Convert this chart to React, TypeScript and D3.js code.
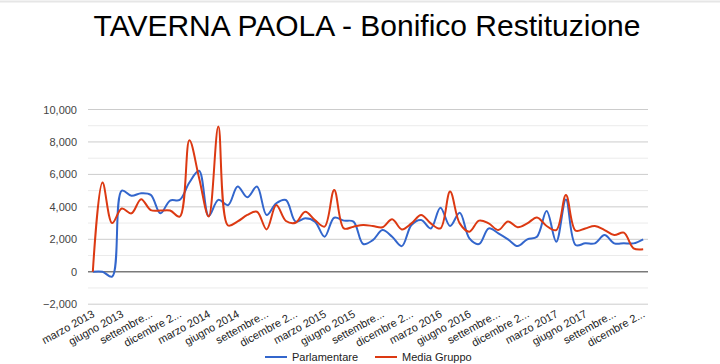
import { useEffect, useRef } from 'react'
import * as d3 from 'd3'

// mesi da marzo 2013 a dicembre 2017
const monthNames = ['gennaio', 'febbraio', 'marzo', 'aprile', 'maggio', 'giugno', 'luglio', 'agosto', 'settembre', 'ottobre', 'novembre', 'dicembre']
const categories: string[] = []
for (let k = 2; k < 2 + 58; k++) {
  categories.push(`${monthNames[k % 12]} ${2013 + Math.floor(k / 12)}`)
}

const parlamentare = [
  0, 0, -300, 5000, 4680, 4840, 4740, 3600, 4390, 4430,
  5500, 6220, 3440, 4430, 4100, 5250, 4590, 5250, 3500, 4220,
  4420, 3090, 3290, 3090, 2160, 3330, 3150, 3090, 1710, 1950,
  2570, 2160, 1580, 2880, 3190, 2670, 3950, 2820, 3640, 2060,
  1710, 2670, 2370, 2000, 1580, 2000, 2160, 3740, 1850, 4460,
  1650, 1750, 1750, 2260, 1750, 1750, 1750, 2000
]

const mediaGruppo = [
  0, 5500, 3000, 3900, 3600, 4470, 3800, 3770, 3770, 3400,
  8100, 5800, 3400, 8950, 2850, 3100, 3500, 3700, 2610, 4110,
  3130, 3020, 3700, 3190, 2780, 5040, 2670, 2780, 2880, 2820,
  2740, 3230, 2610, 2980, 3500, 2980, 2670, 4940, 2980, 2470,
  3150, 2980, 2570, 3100, 2740, 2980, 3350, 2820, 2570, 4730,
  2530, 2670, 2820, 2570, 2260, 2410, 1440, 1380
]

const tickLabels = [
  'marzo 2013', 'giugno 2013', 'settembre...', 'dicembre 2...',
  'marzo 2014', 'giugno 2014', 'settembre...', 'dicembre 2...',
  'marzo 2015', 'giugno 2015', 'settembre...', 'dicembre 2...',
  'marzo 2016', 'giugno 2016', 'settembre...', 'dicembre 2...',
  'marzo 2017', 'giugno 2017', 'settembre...', 'dicembre 2...'
]

const yTicks = [-2000, 0, 2000, 4000, 6000, 8000, 10000]
const yMinorTicks = [-1000, 1000, 3000, 5000, 7000, 9000]
const seriesNames = ['Parlamentare', 'Media Gruppo']
const seriesColors = ['#3366cc', '#dc3912']

export default function App() {
  const canvas = useRef<HTMLDivElement>(null)

  useEffect(() => {
    showCanvas()
  }, [])

  const showCanvas = () => {
    const width = 720
    const height = 364
    const margin = { top: 109.5, bottom: 304.2, left: 88, right: 648 }
    const font = 'Arial, "Liberation Sans", sans-serif'

    d3.select(canvas.current).selectAll('*').remove()

    const svg = d3.select(canvas.current)
      .append('svg')
      .attr('width', width)
      .attr('height', height)
      .style('position', 'absolute')
      .style('left', '0px')
      .style('top', '0px')
      .style('background-color', 'white')
      .style('font-family', font)

    // riga grigia in alto
    svg.append('line')
      .attr('x1', 0).attr('x2', width)
      .attr('y1', 1.5).attr('y2', 1.5)
      .attr('stroke', '#e6e6e6')
      .attr('stroke-width', 2)

    svg.append('text')
      .attr('x', 367)
      .attr('y', 36)
      .attr('text-anchor', 'middle')
      .style('font-size', '30px')
      .attr('fill', '#000')
      .text('TAVERNA PAOLA - Bonifico Restituzione')

    const xScale = d3.scalePoint<string>()
      .domain(categories)
      .range([margin.left, margin.right])
      .padding(0.5)

    const yScale = d3.scaleLinear()
      .domain([-2000, 10000])
      .range([margin.bottom, margin.top])

    // griglia
    svg.append('g')
      .selectAll('line')
      .data(yMinorTicks)
      .join('line')
      .attr('x1', margin.left).attr('x2', margin.right)
      .attr('y1', d => yScale(d)).attr('y2', d => yScale(d))
      .attr('stroke', '#ebebeb')

    svg.append('g')
      .selectAll('line')
      .data(yTicks)
      .join('line')
      .attr('x1', margin.left).attr('x2', margin.right)
      .attr('y1', d => yScale(d)).attr('y2', d => yScale(d))
      .attr('stroke', d => d === 0 ? '#7a7a7a' : '#cccccc')
      .attr('stroke-width', d => d === 0 ? 1.3 : 1)

    // Y axis
    const yAxis = d3.axisLeft(yScale)
      .tickValues(yTicks)
      .tickFormat(d3.format(','))
      .tickSize(0)
      .tickPadding(11)

    const gy = svg.append('g')
      .attr('transform', `translate(${margin.left}, 0)`)
      .call(yAxis)
    gy.select('.domain').remove()
    gy.selectAll('text')
      .style('font-size', '11px')
      .style('font-family', font)
      .attr('fill', '#444')

    // X axis
    const shown = categories.filter((_, i) => i % 3 === 0)
    const xAxis = d3.axisBottom(xScale)
      .tickValues(shown)
      .tickFormat((d) => tickLabels[shown.indexOf(d)])
      .tickSize(0)

    const gx = svg.append('g')
      .attr('transform', `translate(0, ${margin.bottom})`)
      .call(xAxis)
    gx.select('.domain').remove()
    gx.selectAll('text')
      .attr('text-anchor', 'end')
      .attr('x', 0)
      .attr('y', 0)
      .attr('dy', 0)
      .attr('transform', 'translate(2, 12) rotate(-29)')
      .style('font-size', '11px')
      .style('font-family', font)
      .attr('fill', '#222')

    // linee
    const line = d3.line<number>()
      .x((_, i) => xScale(categories[i]) as number)
      .y(d => yScale(d))
      .curve(d3.curveCatmullRom.alpha(0.5))

    const series = [parlamentare, mediaGruppo]
    series.forEach((values, k) => {
      svg.append('path')
        .datum(values)
        .attr('d', line)
        .attr('fill', 'none')
        .attr('stroke', seriesColors[k])
        .attr('stroke-width', 2)
    })

    // legenda
    const legendX = [265, 375]
    const legend = svg.append('g')
    seriesNames.forEach((name, k) => {
      legend.append('line')
        .attr('x1', legendX[k]).attr('x2', legendX[k] + 22)
        .attr('y1', 357).attr('y2', 357)
        .attr('stroke', seriesColors[k])
        .attr('stroke-width', 2)
      legend.append('text')
        .attr('x', legendX[k] + 27)
        .attr('y', 361)
        .style('font-size', '11px')
        .attr('fill', '#222')
        .text(name)
    })
  }

  return (
    <div className='sandbox'>
      <div className='canvas' ref={canvas}></div>
    </div>
  )
}
